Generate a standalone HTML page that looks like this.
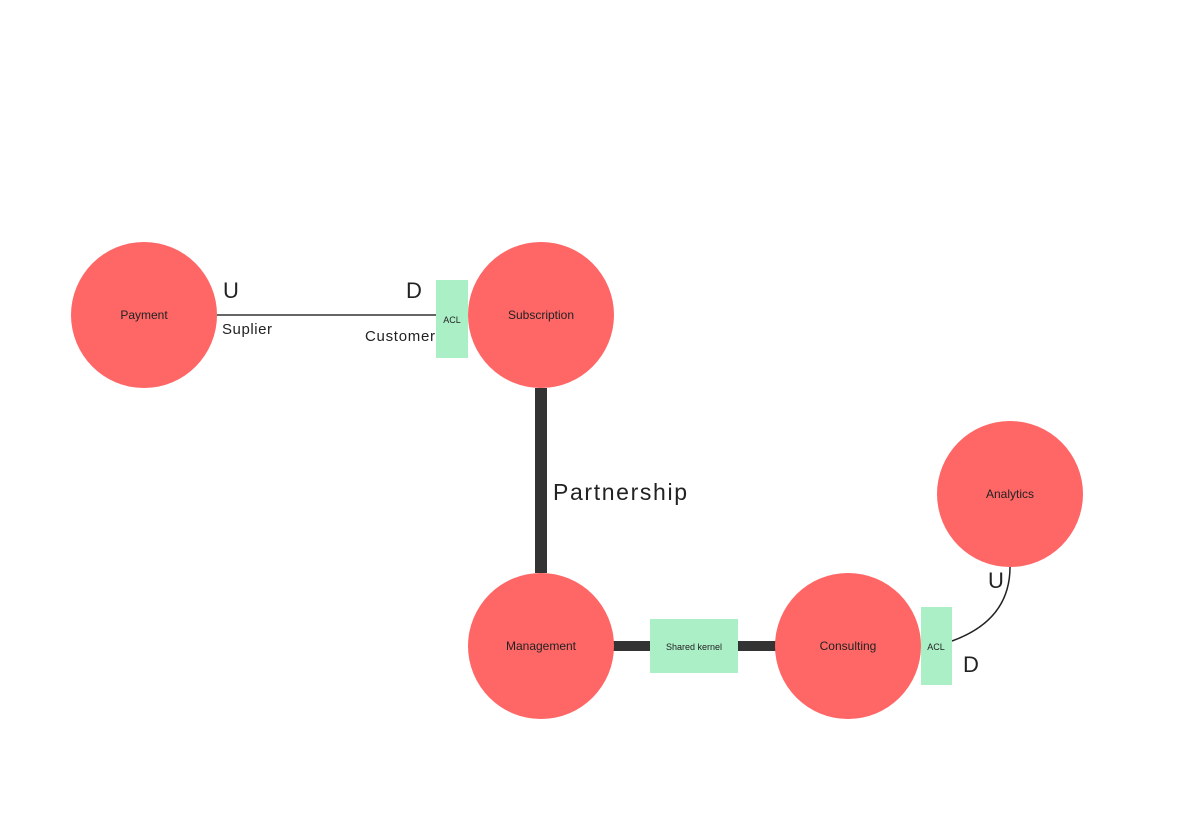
<!DOCTYPE html>
<html><head><style>body{margin:0;background:#fff}svg{display:block}</style></head><body>
<svg width="1203" height="830" xmlns="http://www.w3.org/2000/svg" font-family="'Liberation Sans', 'DejaVu Sans', sans-serif">
<line x1="217" y1="315" x2="436" y2="315" stroke="#333" stroke-width="1.5"/>
<line x1="541" y1="388" x2="541" y2="573" stroke="#333" stroke-width="12"/>
<line x1="613" y1="646" x2="776" y2="646" stroke="#333" stroke-width="10"/>
<path d="M952 641 Q1010 620 1010 567" fill="none" stroke="#222" stroke-width="1.5"/>
<g fill="#ff6666">
<circle cx="144" cy="315" r="73"/>
<circle cx="541" cy="315" r="73"/>
<circle cx="541" cy="646" r="73"/>
<circle cx="848" cy="646" r="73"/>
<circle cx="1010" cy="494" r="73"/>
</g>
<g fill="#abefc6">
<rect x="436" y="280" width="32" height="78"/>
<rect x="921" y="607" width="31" height="78"/>
<rect x="650" y="619" width="88" height="54"/>
</g>
<g fill="#222" font-size="12" text-anchor="middle">
<text x="144" y="319">Payment</text>
<text x="541" y="319">Subscription</text>
<text x="541" y="650">Management</text>
<text x="848" y="650">Consulting</text>
<text x="1010" y="498">Analytics</text>
</g>
<g fill="#222" font-size="9" text-anchor="middle">
<text x="452" y="323">ACL</text>
<text x="936" y="650">ACL</text>
<text x="694" y="650">Shared kernel</text>
</g>
<g fill="#222" font-size="22">
<text x="223" y="298">U</text>
<text x="406" y="298">D</text>
<text x="988" y="588">U</text>
<text x="963" y="672">D</text>
</g>
<g fill="#222" font-size="15">
<text x="222" y="334" textLength="50">Suplier</text>
<text x="365" y="341" textLength="70">Customer</text>
</g>
<text x="553" y="500" font-size="23" fill="#222" textLength="134">Partnership</text>
</svg>
</body></html>
